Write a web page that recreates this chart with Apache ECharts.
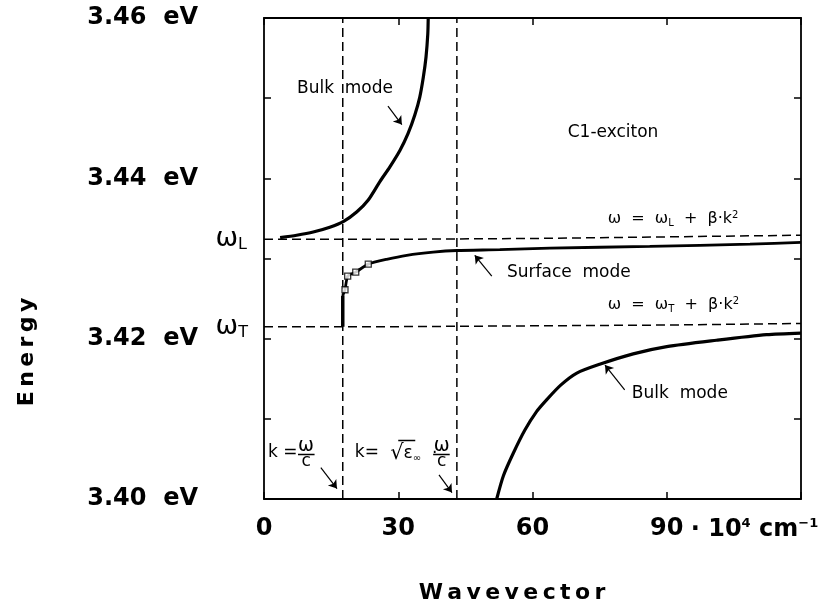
<!DOCTYPE html>
<html>
<head>
<meta charset="utf-8">
<script src="https://cdn.jsdelivr.net/npm/echarts@6/dist/echarts.min.js"></script>
<style>html,body{margin:0;padding:0;background:#fff}#c{width:820px;height:607px}</style>
</head>
<body>
<div id="c"></div>
<script>
// ---- data (k in 10^4 cm^-1, E in eV) ----
const xTicks = [0, 30, 60, 90, 120];
const yTickLabels = {'3.46': '3.46  eV', '3.44': '3.44  eV', '3.42': '3.42  eV', '3.40': '3.40  eV'};

const bulkUpperK = [3.6, 7.3, 11.0, 14.7, 17.7, 20.7, 23.3, 25.9, 28.1, 30.4, 32.2, 33.7, 34.8, 35.6, 36.2, 36.6, 36.7];
const bulkUpperE = [3.4326, 3.4329, 3.4333, 3.4339, 3.4346, 3.4358, 3.4373, 3.4396, 3.4414, 3.4435, 3.4456, 3.4479, 3.4501, 3.4526, 3.4551, 3.4580, 3.4600];

const bulkLowerK = [52.0, 53.5, 55.7, 58.3, 60.9, 63.2, 66.3, 69.9, 75.0, 82.5, 90.0, 101.1, 112.3, 120];
const bulkLowerE = [3.4000, 3.4029, 3.4057, 3.4086, 3.4109, 3.4124, 3.4142, 3.4157, 3.4168, 3.4181, 3.4190, 3.4198, 3.4205, 3.4207];

const surfVertK = [17.6, 17.6];
const surfVertE = [3.4215, 3.4254];

const surfK = [17.6, 18.1, 18.7, 20.5, 23.3, 27.4, 31.9, 37.8, 43.1, 52.7, 63.9, 86.2, 108.6, 120];
const surfE = [3.4254, 3.4261, 3.4278, 3.4283, 3.4293, 3.4299, 3.4304, 3.4308, 3.4310, 3.4311, 3.4313, 3.4315, 3.4318, 3.4320];

const squaresK = [18.1, 18.7, 20.5, 23.3];
const squaresE = [3.4261, 3.4278, 3.4283, 3.4293];

const omegaLK = [0, 30, 60, 90, 120];
const omegaLE = [3.4324, 3.4324, 3.4325, 3.4327, 3.4329];
const omegaTK = [0, 30, 60, 90, 120];
const omegaTE = [3.4215, 3.4215, 3.4216, 3.4217, 3.4219];

const kLightLine = 17.6;      // k = omega/c
const kEpsLine = 43.1;        // k = sqrt(eps_inf) * omega/c

// arrows: [fromK, fromE, toK, toE]
const arrows = [
  [27.7, 3.4490, 30.8, 3.4467],
  [50.9, 3.4278, 47.1, 3.4304],
  [80.6, 3.4136, 76.2, 3.4167],
  [12.7, 3.4039, 16.3, 3.4013],
  [39.1, 3.4030, 42.0, 3.4008]
];

// ---- helpers ----
const zip = (a, b) => a.map((v, i) => [v, b[i]]);
const FONT = 'DejaVu Sans';
const black = '#000';

const RICH = {
  t: {fontSize: 16, fontFamily: FONT, fill: black},
  w: {fontSize: 17, fontFamily: FONT, fill: black},
  fw: {fontSize: 19, fontFamily: FONT, fill: black},
  rt: {fontSize: 21, fontFamily: FONT, fill: black},
  sub: {fontSize: 10, fontFamily: FONT, fill: black, verticalAlign: 'bottom', padding: [6, 0, 0, 0]},
  sup: {fontSize: 10, fontFamily: FONT, fill: black, verticalAlign: 'top', padding: [0, 0, 8, 0]},
  big: {fontSize: 27, fontFamily: FONT, fill: black},
  bsub: {fontSize: 16, fontFamily: FONT, fill: black, verticalAlign: 'bottom', padding: [12, 0, 0, 0]},
  ub: {fontSize: 24, fontFamily: FONT, fill: black, fontWeight: 'bold'},
  usup: {fontSize: 13, fontFamily: FONT, fill: black, fontWeight: 'bold', verticalAlign: 'top', padding: [0, 0, 12, 0]}
};

// annotation texts anchored at data coordinates [k, E]; dx/dy are pixel nudges
const annotations = [
  {k: 18.1, E: 3.4512, text: '{w|Bulk  mode}', align: 'center'},
  {k: 78.0, E: 3.4457, text: '{w|C1-exciton}', align: 'center'},
  {k: 76.8, E: 3.4349, text: '{t|ω  =  ω}{sub|L}{t|  +  β·k}{sup|2}', align: 'left'},
  {k: 54.3, E: 3.4283, text: '{w|Surface  mode}', align: 'left'},
  {k: 76.8, E: 3.4242, text: '{t|ω  =  ω}{sub|T}{t|  +  β·k}{sup|2}', align: 'left'},
  {k: 82.2, E: 3.4131, text: '{w|Bulk  mode}', align: 'left'},
  {k: 0.9, E: 3.4058, text: '{w|k =}', align: 'left'},
  {k: 9.4, E: 3.4066, text: '{fw|ω}', align: 'center'},
  {k: 9.4, E: 3.40465, text: '{w|c}', align: 'center'},
  {k: 20.3, E: 3.4058, text: '{w|k=}', align: 'left'},
  {k: 28.2, E: 3.4057, text: '{rt|√}{w|ε}{sub|∞}{w|  ·}', align: 'left'},
  {k: 39.7, E: 3.4066, text: '{fw|ω}', align: 'center'},
  {k: 39.7, E: 3.40465, text: '{w|c}', align: 'center'},
  {k: 0, E: 3.4324, text: '{big|ω}{bsub|L}', align: 'right', dx: -17},
  {k: 0, E: 3.4215, text: '{big|ω}{bsub|T}', align: 'right', dx: -16},
  {k: 90, E: 3.40, text: '{ub|· 10}{usup|4}{ub| cm}{usup|−1}', align: 'left', vAlign: 'top', dx: 24, dy: 18}
];

// fraction bars and sqrt overline as short segments
const decoSegments = [
  [[7.6, 3.40564], [11.3, 3.40564]],
  [[37.8, 3.40564], [41.5, 3.40564]],
  [[30.0, 3.40738], [33.8, 3.40738]]
];

const chart = echarts.init(document.getElementById('c'), null, {renderer: 'canvas'});

const axisLineStyle = {color: black, width: 1.8};
const grid = {left: 264, top: 18, width: 537, height: 481, outerBoundsMode: 'none', containLabel: false};
const TS = '\u2009';

const option = {
  backgroundColor: '#fff',
  animation: false,
  grid: grid,
  graphic: [
    {
      type: 'text', x: 27, y: 352, rotation: Math.PI / 2,
      style: {text: 'Energy'.split('').join(TS), fontSize: 22, fontWeight: 'bold', fontFamily: FONT,
              fill: black, align: 'center', verticalAlign: 'middle'}
    },
    {
      type: 'text', x: 512, y: 593,
      style: {text: 'Wavevector'.split('').join(TS), fontSize: 22, fontWeight: 'bold', fontFamily: FONT,
              fill: black, align: 'center', verticalAlign: 'middle'}
    }
  ],
  xAxis: [
    {
      type: 'value', min: 0, max: 120, interval: 30, position: 'bottom',
      axisLine: {show: true, onZero: false, lineStyle: axisLineStyle},
      axisTick: {show: true, inside: true, length: 7, lineStyle: {color: black, width: 1.5}},
      splitLine: {show: false},
      axisLabel: {
        margin: 18, color: black, fontSize: 24, fontWeight: 'bold', fontFamily: FONT,
        formatter: v => (v === 120 ? '' : String(v))
      }
    },
    {
      type: 'value', min: 0, max: 120, interval: 30, position: 'top',
      axisLine: {show: true, onZero: false, lineStyle: axisLineStyle},
      axisTick: {show: true, inside: true, length: 7, lineStyle: {color: black, width: 1.5}},
      axisLabel: {show: false}, splitLine: {show: false}
    }
  ],
  yAxis: [
    {
      type: 'value', min: 3.40, max: 3.46, interval: 0.01, position: 'left',
      axisLine: {show: true, onZero: false, lineStyle: axisLineStyle},
      axisTick: {show: true, inside: true, length: 7, lineStyle: {color: black, width: 1.5}},
      splitLine: {show: false},
      axisLabel: {
        margin: 66, color: black, fontSize: 24, fontWeight: 'bold', fontFamily: FONT,
        formatter: v => {
          const key = (Math.round(v * 100) / 100).toFixed(2);
          return yTickLabels[key] || '';
        }
      }
    },
    {
      type: 'value', min: 3.40, max: 3.46, interval: 0.01, position: 'right',
      axisLine: {show: true, onZero: false, lineStyle: axisLineStyle},
      axisTick: {show: true, inside: true, length: 7, lineStyle: {color: black, width: 1.5}},
      axisLabel: {show: false}, splitLine: {show: false}
    }
  ],
  series: [
    {
      name: 'omegaL', type: 'line', data: zip(omegaLK, omegaLE), showSymbol: false, symbol: 'none',
      lineStyle: {color: black, width: 1.5, type: [9, 5]}, z: 2
    },
    {
      name: 'omegaT', type: 'line', data: zip(omegaTK, omegaTE), showSymbol: false, symbol: 'none',
      lineStyle: {color: black, width: 1.5, type: [9, 5]}, z: 2
    },
    {
      name: 'kLight', type: 'line', data: [[kLightLine, 3.40], [kLightLine, 3.46]], symbol: 'none',
      lineStyle: {color: black, width: 1.5, type: [9, 5]}, z: 2
    },
    {
      name: 'kEps', type: 'line', data: [[kEpsLine, 3.40], [kEpsLine, 3.46]], symbol: 'none',
      lineStyle: {color: black, width: 1.5, type: [9, 5]}, z: 2
    },
    {
      name: 'bulkUpper', type: 'line', data: zip(bulkUpperK, bulkUpperE), symbol: 'none',
      smooth: 0.25,
      lineStyle: {color: black, width: 3.2}, z: 3
    },
    {
      name: 'bulkLower', type: 'line', data: zip(bulkLowerK, bulkLowerE), symbol: 'none',
      smooth: 0.25,
      lineStyle: {color: black, width: 3.2}, z: 3
    },
    {
      name: 'surfVert', type: 'line', data: zip(surfVertK, surfVertE), symbol: 'none',
      lineStyle: {color: black, width: 3.5}, z: 3
    },
    {
      name: 'surface', type: 'line', data: zip(surfK, surfE), symbol: 'none',
      smooth: 0.2,
      lineStyle: {color: black, width: 2.8}, z: 3
    },
    {
      name: 'squares', type: 'scatter', data: zip(squaresK, squaresE), symbol: 'rect', symbolSize: 6,
      itemStyle: {color: '#fff', borderColor: black, borderWidth: 1.3}, z: 5
    },
    {
      name: 'arrows', type: 'lines', coordinateSystem: 'cartesian2d', z: 4,
      symbol: ['none', 'arrow'], symbolSize: 8,
      lineStyle: {color: black, width: 1.2, opacity: 1},
      data: arrows.map(a => ({coords: [[a[0], a[1]], [a[2], a[3]]]}))
    },
    {
      name: 'deco', type: 'lines', coordinateSystem: 'cartesian2d', z: 4,
      symbol: ['none', 'none'],
      lineStyle: {color: black, width: 1.3, opacity: 1},
      data: decoSegments.map(s => ({coords: s}))
    },
    {
      name: 'annotations', type: 'custom', coordinateSystem: 'cartesian2d', z: 6, silent: true, clip: false,
      data: annotations.map((a, i) => [a.k, a.E, i]),
      encode: {x: 0, y: 1},
      renderItem: function (params, api) {
        const a = annotations[api.value(2)];
        const p = api.coord([api.value(0), api.value(1)]);
        return {
          type: 'text',
          x: p[0] + (a.dx || 0),
          y: p[1] + (a.dy || 0),
          style: {
            text: a.text, rich: RICH, fill: black, fontFamily: FONT, fontSize: 16,
            align: a.align || 'center', verticalAlign: a.vAlign || 'middle'
          }
        };
      }
    }
  ]
};
chart.setOption(option);
</script>
</body>
</html>
